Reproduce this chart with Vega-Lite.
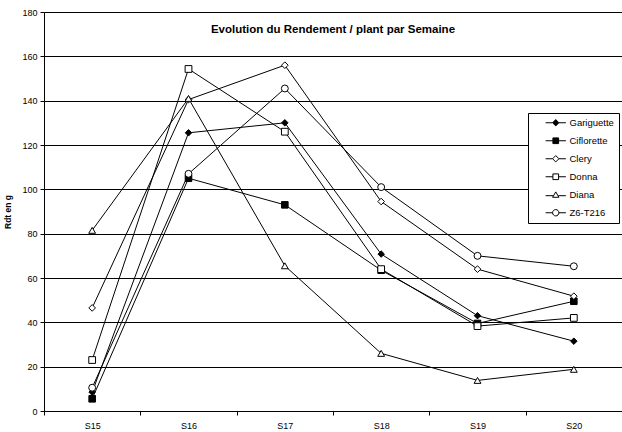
{
  "$schema": "https://vega.github.io/schema/vega-lite/v6.json",
  "width": 578,
  "height": 399,
  "autosize": "none",
  "padding": {"left": 44, "top": 12, "right": 0, "bottom": 21},
  "background": "white",
  "config": {
    "font": "Liberation Sans",
    "view": {"stroke": null},
    "legend": {
      "orient": "none",
      "legendX": 484,
      "legendY": 101,
      "labelFontSize": 9.5,
      "labelColor": "#000",
      "strokeColor": "#000",
      "fillColor": "white",
      "padding": 5,
      "rowPadding": 7,
      "symbolOffset": 18,
      "labelOffset": 9,
      "symbolStrokeWidth": 1,
      "symbolSize": 40
    }
  },
  "title": {
    "text": "Evolution du Rendement / plant par Semaine",
    "fontSize": 11.5,
    "fontWeight": "bold",
    "font": "Liberation Sans",
    "color": "#000",
    "anchor": "middle",
    "orient": "top",
    "offset": -27
  },
  "data": {
    "values": [
      {"semaine": "S15", "variete": "Gariguette", "rdt": 8.5},
      {"semaine": "S16", "variete": "Gariguette", "rdt": 125.5},
      {"semaine": "S17", "variete": "Gariguette", "rdt": 130},
      {"semaine": "S18", "variete": "Gariguette", "rdt": 70.8},
      {"semaine": "S19", "variete": "Gariguette", "rdt": 43},
      {"semaine": "S20", "variete": "Gariguette", "rdt": 31.5},
      {"semaine": "S15", "variete": "Ciflorette", "rdt": 5.5},
      {"semaine": "S16", "variete": "Ciflorette", "rdt": 105},
      {"semaine": "S17", "variete": "Ciflorette", "rdt": 93},
      {"semaine": "S18", "variete": "Ciflorette", "rdt": 63.5},
      {"semaine": "S19", "variete": "Ciflorette", "rdt": 39.5},
      {"semaine": "S20", "variete": "Ciflorette", "rdt": 49.5},
      {"semaine": "S15", "variete": "Clery", "rdt": 46.5},
      {"semaine": "S16", "variete": "Clery", "rdt": 140.5},
      {"semaine": "S17", "variete": "Clery", "rdt": 156},
      {"semaine": "S18", "variete": "Clery", "rdt": 94.5},
      {"semaine": "S19", "variete": "Clery", "rdt": 64},
      {"semaine": "S20", "variete": "Clery", "rdt": 51.8},
      {"semaine": "S15", "variete": "Donna", "rdt": 23},
      {"semaine": "S16", "variete": "Donna", "rdt": 154.3},
      {"semaine": "S17", "variete": "Donna", "rdt": 126},
      {"semaine": "S18", "variete": "Donna", "rdt": 64},
      {"semaine": "S19", "variete": "Donna", "rdt": 38.3},
      {"semaine": "S20", "variete": "Donna", "rdt": 42},
      {"semaine": "S15", "variete": "Diana", "rdt": 81.5},
      {"semaine": "S16", "variete": "Diana", "rdt": 141},
      {"semaine": "S17", "variete": "Diana", "rdt": 65.5},
      {"semaine": "S18", "variete": "Diana", "rdt": 26},
      {"semaine": "S19", "variete": "Diana", "rdt": 13.8},
      {"semaine": "S20", "variete": "Diana", "rdt": 18.8},
      {"semaine": "S15", "variete": "Z6-T216", "rdt": 10.5},
      {"semaine": "S16", "variete": "Z6-T216", "rdt": 107},
      {"semaine": "S17", "variete": "Z6-T216", "rdt": 145.5},
      {"semaine": "S18", "variete": "Z6-T216", "rdt": 101},
      {"semaine": "S19", "variete": "Z6-T216", "rdt": 70},
      {"semaine": "S20", "variete": "Z6-T216", "rdt": 65.3}
    ]
  },
  "encoding": {
    "x": {
      "field": "semaine",
      "type": "nominal",
      "scale": {"type": "band", "paddingInner": 0, "paddingOuter": 0},
      "axis": {
        "title": null,
        "labelAngle": 0,
        "labelFontSize": 9,
        "labelColor": "#000",
        "labelPadding": 6,
        "domainColor": "#000",
        "tickColor": "#000",
        "tickSize": 4,
        "tickBand": "extent",
        "grid": false
      }
    },
    "y": {
      "field": "rdt",
      "type": "quantitative",
      "scale": {"domain": [0, 180], "nice": false},
      "axis": {
        "title": "Rdt en g",
        "titleFontSize": 8.5,
        "titleFontWeight": "bold",
        "titleColor": "#000",
        "titlePadding": 9,
        "values": [0, 20, 40, 60, 80, 100, 120, 140, 160, 180],
        "labelFontSize": 9,
        "labelColor": "#000",
        "labelPadding": 3,
        "domainColor": "#000",
        "tickColor": "#000",
        "tickSize": 4,
        "grid": true,
        "gridColor": "#000",
        "gridOpacity": 1,
        "gridWidth": 1
      }
    }
  },
  "layer": [
    {
      "mark": {"type": "line", "color": "#000", "strokeWidth": 1},
      "encoding": {
        "detail": {"field": "variete", "type": "nominal"}
      }
    },
    {
      "mark": {"type": "point", "stroke": "#000", "strokeWidth": 1, "opacity": 1, "filled": false},
      "encoding": {
        "shape": {
          "field": "variete",
          "type": "nominal",
          "scale": {
            "domain": ["Gariguette", "Ciflorette", "Clery", "Donna", "Diana", "Z6-T216"],
            "range": ["diamond", "square", "diamond", "square", "triangle-up", "circle"]
          },
          "legend": null
        },
        "fill": {
          "field": "variete",
          "type": "nominal",
          "scale": {
            "domain": ["Gariguette", "Ciflorette", "Clery", "Donna", "Diana", "Z6-T216"],
            "range": ["#000", "#000", "#fff", "#fff", "#fff", "#fff"]
          },
          "legend": null
        },
        "size": {
          "field": "variete",
          "type": "nominal",
          "scale": {
            "domain": ["Gariguette", "Ciflorette", "Clery", "Donna", "Diana", "Z6-T216"],
            "range": [42, 48, 48, 56, 48, 56]
          },
          "legend": null
        }
      }
    },
    {
      "transform": [{"filter": "false"}],
      "mark": {"type": "point", "strokeWidth": 1, "opacity": 1, "filled": false},
      "encoding": {
        "shape": {
          "field": "variete",
          "type": "nominal",
          "scale": {
            "domain": ["Gariguette", "Ciflorette", "Clery", "Donna", "Diana", "Z6-T216"],
            "range": [
              "M-3.2,0H-1M1,0H3.2M0,-1L1,0L0,1L-1,0Z",
              "M-3.2,0H-0.9M0.9,0H3.2M-0.9,-0.9H0.9V0.9H-0.9Z",
              "M-3.2,0H-1M1,0H3.2M0,-1L1,0L0,1L-1,0Z",
              "M-3.2,0H-0.9M0.9,0H3.2M-0.9,-0.9H0.9V0.9H-0.9Z",
              "M-3.2,0.3H-0.8M0.8,0.3H3.2M0,-0.9L1,0.8H-1Z",
              "M-3.2,0H-1M1,0H3.2M1,0A1,1,0,1,1,-1,0A1,1,0,1,1,1,0Z"
            ]
          },
          "legend": {"title": null}
        },
        "fill": {
          "field": "variete",
          "type": "nominal",
          "scale": {
            "domain": ["Gariguette", "Ciflorette", "Clery", "Donna", "Diana", "Z6-T216"],
            "range": ["#000", "#000", "#fff", "#fff", "#fff", "#fff"]
          },
          "legend": {"title": null}
        },
        "stroke": {
          "field": "variete",
          "type": "nominal",
          "scale": {
            "domain": ["Gariguette", "Ciflorette", "Clery", "Donna", "Diana", "Z6-T216"],
            "range": ["#000", "#000", "#000", "#000", "#000", "#000"]
          },
          "legend": {"title": null}
        }
      }
    }
  ],
  "resolve": {"scale": {"shape": "independent", "fill": "independent", "stroke": "independent", "size": "independent"}}
}
